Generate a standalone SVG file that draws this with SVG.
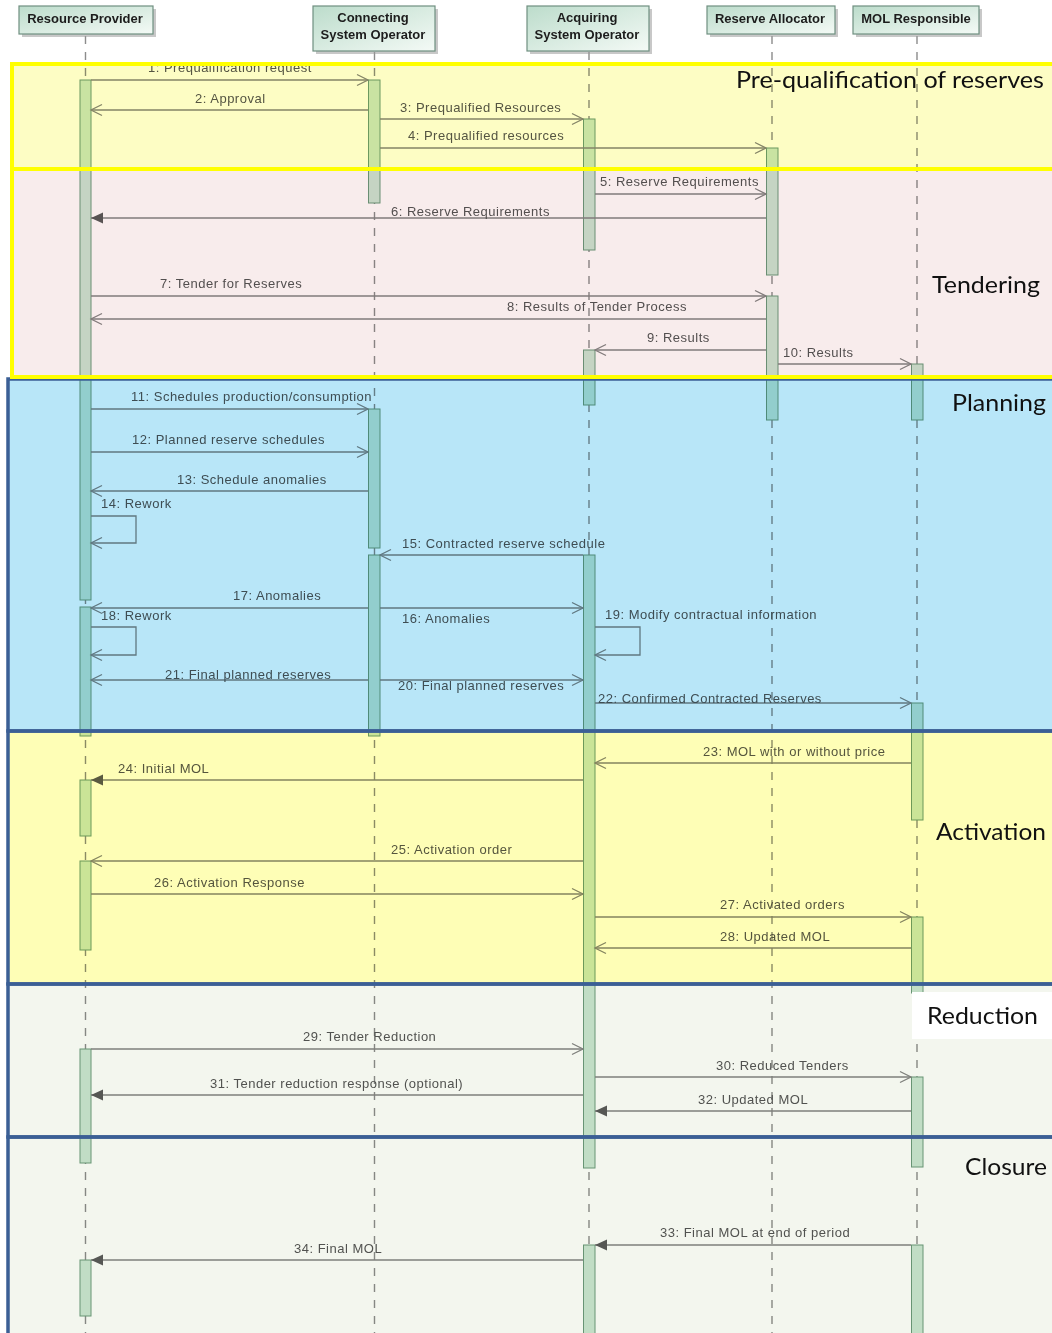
<svg xmlns="http://www.w3.org/2000/svg" width="1052" height="1333" viewBox="0 0 1052 1333">
  <defs>
    <linearGradient id="hdrFill" x1="0" y1="0" x2="1" y2="1">
      <stop offset="0" stop-color="#bcdccb"/>
      <stop offset="1" stop-color="#f4faf6"/>
    </linearGradient>
    <marker id="open" markerUnits="userSpaceOnUse" markerWidth="14" markerHeight="13" refX="11" refY="5.5" orient="auto" overflow="visible">
      <path d="M0,0 L11,5.5 L0,11" fill="none" stroke="#858585" stroke-width="1.3"/>
    </marker>
    <marker id="solid" markerUnits="userSpaceOnUse" markerWidth="14" markerHeight="13" refX="12" refY="5.5" orient="auto" overflow="visible">
      <path d="M0,0 L12,5.5 L0,11 Z" fill="#5a5a5a"/>
    </marker>
    <style>
      .hshadow { fill:#9a9a9a; opacity:0.55 }
      .hbox { fill:url(#hdrFill); stroke:#6f8f80; stroke-width:1.2 }
      .htxt { font-family:"Liberation Sans", Arial, sans-serif; font-size:13px; font-weight:bold; fill:#1c1c1c; text-anchor:middle }
      .ll { stroke:#8c8c8c; stroke-width:1.4; stroke-dasharray:8 8; fill:none }
      .bar { fill:#cbe5d3; stroke:#6d9a7c; stroke-width:1 }
      .msg { stroke:#858585; stroke-width:1.3; fill:none }
      .op { marker-end:url(#open) }
      .so { marker-end:url(#solid) }
      .lbl { font-family:"Liberation Sans", Arial, sans-serif; font-size:13px; letter-spacing:0.5px; fill:#555555 }
      .band { mix-blend-mode:multiply }
      .yframe { fill:none; stroke:#ffff00; stroke-width:4 }
      .bframe { fill:none; stroke:#3b5f95; stroke-width:3.5 }
      .title { font-family:Lato, "Open Sans", sans-serif; font-size:23px; fill:#111111 }
    </style>
  </defs>

  <rect x="0" y="0" width="1052" height="1333" fill="#ffffff"/>

  <!-- lifelines with their heads and activation bars -->
  <g id="resource-provider">
    <line class="ll" x1="85.5" y1="36" x2="85.5" y2="1333"/>
    <rect class="hshadow" x="22" y="9" width="134" height="28"/>
    <rect class="hbox" x="19" y="6" width="134" height="28"/>
    <text class="htxt" x="85" y="23">Resource Provider</text>
    <rect class="bar" x="80" y="80" width="11" height="520"/>
    <rect class="bar" x="80" y="607" width="11" height="129"/>
    <rect class="bar" x="80" y="780" width="11" height="56"/>
    <rect class="bar" x="80" y="861" width="11" height="89"/>
    <rect class="bar" x="80" y="1049" width="11" height="114"/>
    <rect class="bar" x="80" y="1260" width="11" height="56"/>
  </g>

  <g id="connecting-system-operator">
    <line class="ll" x1="374.5" y1="52" x2="374.5" y2="1333"/>
    <rect class="hshadow" x="316" y="9" width="122" height="45"/>
    <rect class="hbox" x="313" y="6" width="122" height="45"/>
    <text class="htxt" x="373" y="22">Connecting</text>
    <text class="htxt" x="373" y="39">System Operator</text>
    <rect class="bar" x="368.5" y="80" width="11.5" height="123"/>
    <rect class="bar" x="368.5" y="409" width="11.5" height="139"/>
    <rect class="bar" x="368.5" y="555" width="11.5" height="181"/>
  </g>

  <g id="acquiring-system-operator">
    <line class="ll" x1="589" y1="52" x2="589" y2="1333"/>
    <rect class="hshadow" x="530" y="9" width="122" height="45"/>
    <rect class="hbox" x="527" y="6" width="122" height="45"/>
    <text class="htxt" x="587" y="22">Acquiring</text>
    <text class="htxt" x="587" y="39">System Operator</text>
    <rect class="bar" x="583.5" y="119" width="11.5" height="131"/>
    <rect class="bar" x="583.5" y="350" width="11.5" height="55"/>
    <rect class="bar" x="583.5" y="555" width="11.5" height="613"/>
    <rect class="bar" x="583.5" y="1245" width="11.5" height="95"/>
  </g>

  <g id="reserve-allocator">
    <line class="ll" x1="772" y1="36" x2="772" y2="1333"/>
    <rect class="hshadow" x="710" y="9" width="128" height="28"/>
    <rect class="hbox" x="707" y="6" width="128" height="28"/>
    <text class="htxt" x="770" y="23">Reserve Allocator</text>
    <rect class="bar" x="766.5" y="148" width="11.5" height="127"/>
    <rect class="bar" x="766.5" y="296" width="11.5" height="124"/>
  </g>

  <g id="mol-responsible">
    <line class="ll" x1="917" y1="36" x2="917" y2="1333"/>
    <rect class="hshadow" x="856" y="9" width="126" height="28"/>
    <rect class="hbox" x="853" y="6" width="126" height="28"/>
    <text class="htxt" x="916" y="23">MOL Responsible</text>
    <rect class="bar" x="911.5" y="364" width="11.5" height="56"/>
    <rect class="bar" x="911.5" y="703" width="11.5" height="117"/>
    <rect class="bar" x="911.5" y="917" width="11.5" height="76"/>
    <rect class="bar" x="911.5" y="1077" width="11.5" height="90"/>
    <rect class="bar" x="911.5" y="1245" width="11.5" height="95"/>
  </g>

  <!-- messages -->
  <g id="connectors">
    <line class="msg op" x1="91" y1="80" x2="368" y2="80"/>
    <line class="msg op" x1="368" y1="110" x2="91" y2="110"/>
    <line class="msg op" x1="380" y1="119" x2="583" y2="119"/>
    <line class="msg op" x1="380" y1="148" x2="766" y2="148"/>
    <line class="msg op" x1="595" y1="194" x2="766" y2="194"/>
    <line class="msg so" x1="766" y1="218" x2="91" y2="218"/>
    <line class="msg op" x1="91" y1="296" x2="766" y2="296"/>
    <line class="msg op" x1="766" y1="319" x2="91" y2="319"/>
    <line class="msg op" x1="766" y1="350" x2="595" y2="350"/>
    <line class="msg op" x1="778" y1="364" x2="911" y2="364"/>
    <line class="msg op" x1="91" y1="409" x2="368" y2="409"/>
    <line class="msg op" x1="91" y1="452" x2="368" y2="452"/>
    <line class="msg op" x1="368" y1="491" x2="91" y2="491"/>
    <path class="msg op" d="M91,516 H136 V543 H91"/>
    <line class="msg op" x1="583" y1="555" x2="380" y2="555"/>
    <line class="msg op" x1="380" y1="608" x2="583" y2="608"/>
    <line class="msg op" x1="368" y1="608" x2="91" y2="608"/>
    <path class="msg op" d="M91,627 H136 V655 H91"/>
    <path class="msg op" d="M595,627 H640 V655 H595"/>
    <line class="msg op" x1="380" y1="680" x2="583" y2="680"/>
    <line class="msg op" x1="368" y1="680" x2="91" y2="680"/>
    <line class="msg op" x1="595" y1="703" x2="911" y2="703"/>
    <line class="msg op" x1="911" y1="763" x2="595" y2="763"/>
    <line class="msg so" x1="583" y1="780" x2="91" y2="780"/>
    <line class="msg op" x1="583" y1="861" x2="91" y2="861"/>
    <line class="msg op" x1="91" y1="894" x2="583" y2="894"/>
    <line class="msg op" x1="595" y1="917" x2="911" y2="917"/>
    <line class="msg op" x1="911" y1="948" x2="595" y2="948"/>
    <line class="msg op" x1="91" y1="1049" x2="583" y2="1049"/>
    <line class="msg op" x1="595" y1="1077" x2="911" y2="1077"/>
    <line class="msg so" x1="583" y1="1095" x2="91" y2="1095"/>
    <line class="msg so" x1="911" y1="1111" x2="595" y2="1111"/>
    <line class="msg so" x1="911" y1="1245" x2="595" y2="1245"/>
    <line class="msg so" x1="583" y1="1260" x2="91" y2="1260"/>

    <text class="lbl" x="148" y="72">1: Prequalification request</text>
    <text class="lbl" x="195" y="103">2: Approval</text>
    <text class="lbl" x="400" y="112">3: Prequalified Resources</text>
    <text class="lbl" x="408" y="140">4: Prequalified resources</text>
    <text class="lbl" x="600" y="186">5: Reserve Requirements</text>
    <text class="lbl" x="391" y="216">6: Reserve Requirements</text>
    <text class="lbl" x="160" y="288">7: Tender for Reserves</text>
    <text class="lbl" x="507" y="311">8: Results of Tender Process</text>
    <text class="lbl" x="647" y="342">9: Results</text>
    <text class="lbl" x="783" y="357">10: Results</text>
    <text class="lbl" x="131" y="401">11: Schedules production/consumption</text>
    <text class="lbl" x="132" y="444">12: Planned reserve schedules</text>
    <text class="lbl" x="177" y="484">13: Schedule anomalies</text>
    <text class="lbl" x="101" y="508">14: Rework</text>
    <text class="lbl" x="402" y="548">15: Contracted reserve schedule</text>
    <text class="lbl" x="402" y="623">16: Anomalies</text>
    <text class="lbl" x="233" y="600">17: Anomalies</text>
    <text class="lbl" x="101" y="620">18: Rework</text>
    <text class="lbl" x="605" y="619">19: Modify contractual information</text>
    <text class="lbl" x="398" y="690">20: Final planned reserves</text>
    <text class="lbl" x="165" y="679">21: Final planned reserves</text>
    <text class="lbl" x="598" y="703">22: Confirmed Contracted Reserves</text>
    <text class="lbl" x="703" y="756">23: MOL with or without price</text>
    <text class="lbl" x="118" y="773">24: Initial MOL</text>
    <text class="lbl" x="391" y="854">25: Activation order</text>
    <text class="lbl" x="154" y="887">26: Activation Response</text>
    <text class="lbl" x="720" y="909">27: Activated orders</text>
    <text class="lbl" x="720" y="941">28: Updated MOL</text>
    <text class="lbl" x="303" y="1041">29: Tender Reduction</text>
    <text class="lbl" x="716" y="1070">30: Reduced Tenders</text>
    <text class="lbl" x="210" y="1088">31: Tender reduction response (optional)</text>
    <text class="lbl" x="698" y="1104">32: Updated MOL</text>
    <text class="lbl" x="660" y="1237">33: Final MOL at end of period</text>
    <text class="lbl" x="294" y="1253">34: Final MOL</text>
  </g>

  <!-- phase bands, tinting everything beneath them -->
  <g id="phase-bands">
    <rect class="band" x="12" y="64" width="1050" height="105" fill="#fdfdc4"/>
    <rect class="band" x="12" y="169" width="1050" height="208" fill="#f8ecec"/>
    <rect class="band" x="8" y="379" width="1054" height="352" fill="#b8e6f8"/>
    <rect class="band" x="8" y="731" width="1054" height="253" fill="#fefeb6"/>
    <rect class="band" x="8" y="984" width="1054" height="153" fill="#f3f6ee"/>
    <rect class="band" x="8" y="1137" width="1054" height="210" fill="#f3f6ee"/>

    <rect class="bframe" x="8" y="379" width="1060" height="352"/>
    <rect class="bframe" x="8" y="731" width="1060" height="253"/>
    <rect class="bframe" x="8" y="984" width="1060" height="153"/>
    <rect class="bframe" x="8" y="1137" width="1060" height="220"/>
    <rect class="yframe" x="12" y="64" width="1060" height="105"/>
    <rect class="yframe" x="12" y="169" width="1060" height="208"/>

    <rect x="912" y="992" width="142" height="47" fill="#ffffff"/>

    <text class="title" x="736" y="88" textLength="308" lengthAdjust="spacingAndGlyphs">Pre-qualification of reserves</text>
    <text class="title" x="932" y="293" textLength="108" lengthAdjust="spacingAndGlyphs">Tendering</text>
    <text class="title" x="952" y="411" textLength="94" lengthAdjust="spacingAndGlyphs">Planning</text>
    <text class="title" x="936" y="840" textLength="110" lengthAdjust="spacingAndGlyphs">Activation</text>
    <text class="title" x="927" y="1024" textLength="111" lengthAdjust="spacingAndGlyphs">Reduction</text>
    <text class="title" x="965" y="1175" textLength="82" lengthAdjust="spacingAndGlyphs" fill="#3c4242">Closure</text>
  </g>
</svg>
